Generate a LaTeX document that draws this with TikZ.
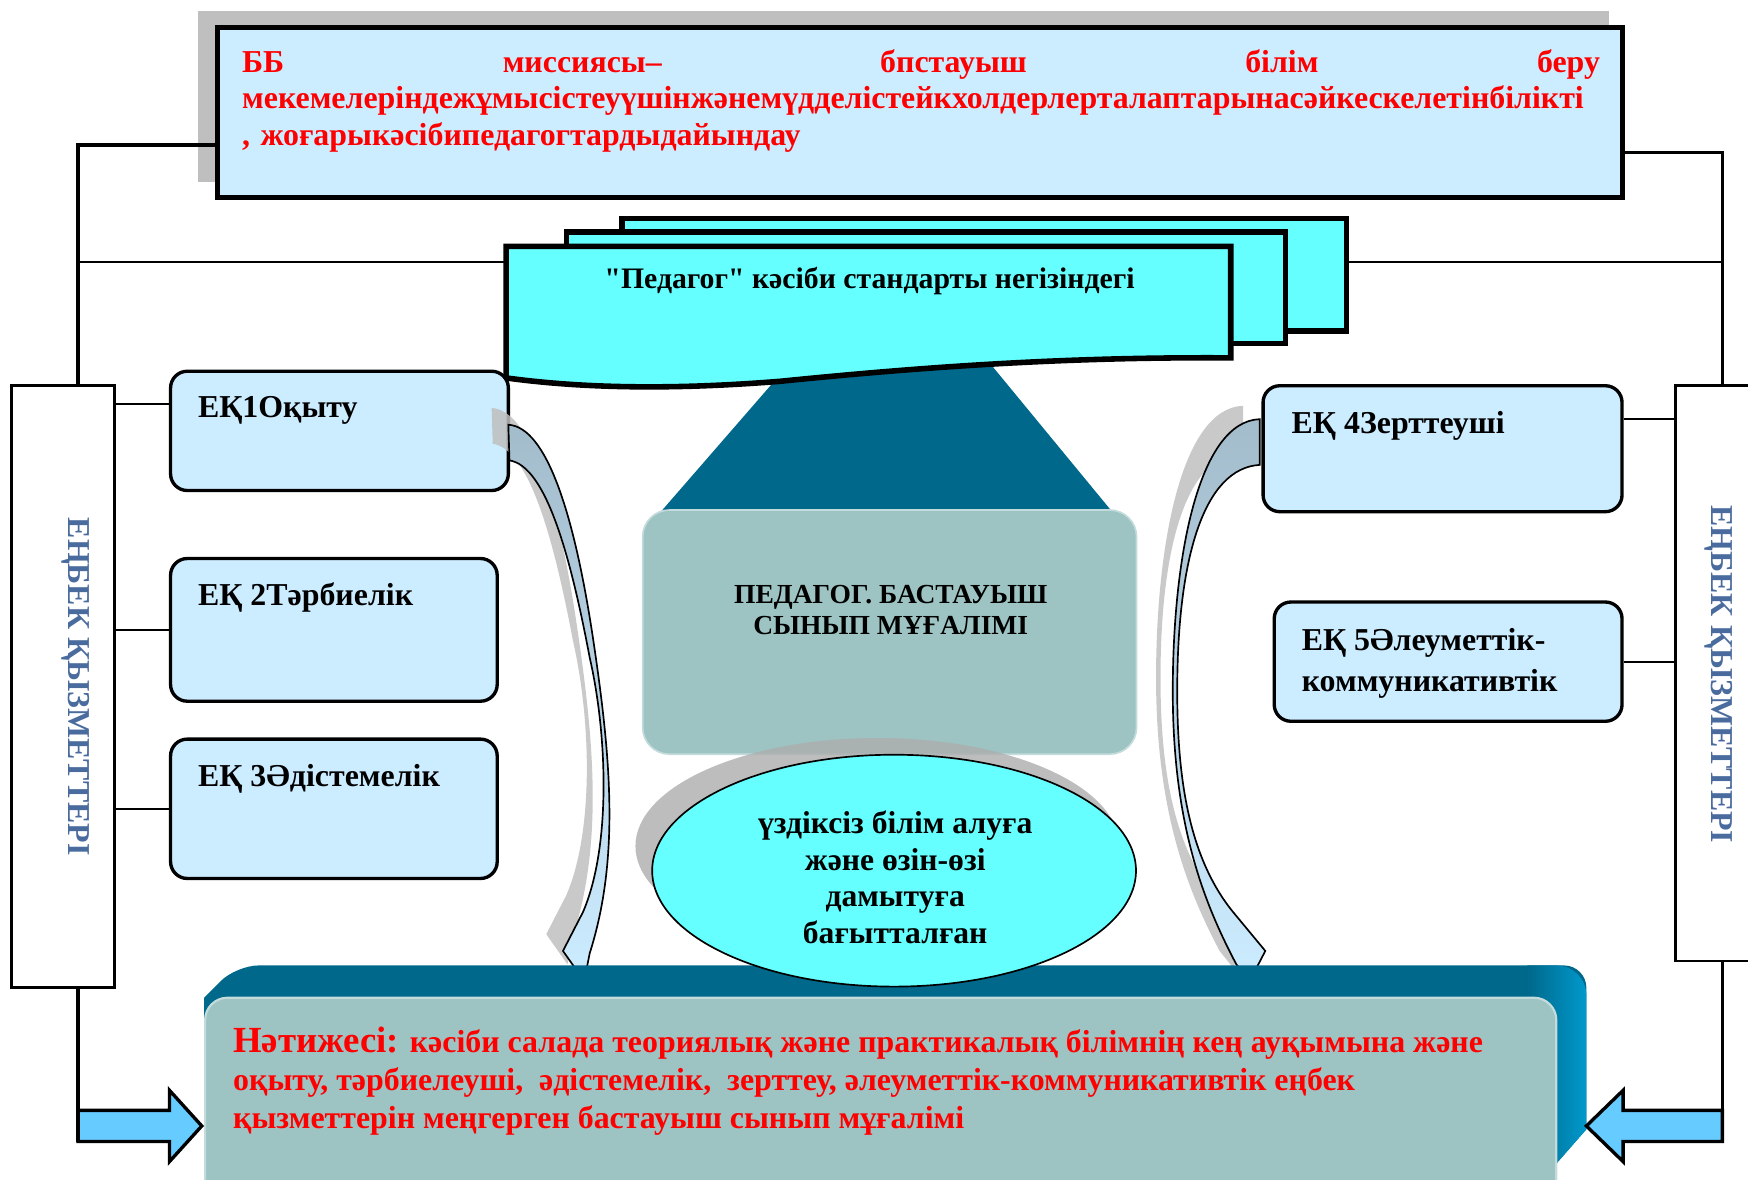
\documentclass[tikz,border=0pt]{standalone}
\usepackage{fontspec}
\setmainfont{Liberation Serif}
\newfontfamily\quotefont{Liberation Serif}
\usetikzlibrary{arrows.meta,shapes.geometric}

\definecolor{boxblue}{HTML}{CCECFF}
\definecolor{docaqua}{HTML}{66FFFF}
\definecolor{deepteal}{HTML}{00688B}
\definecolor{sageteal}{HTML}{9DC3C3}
\definecolor{sideblue}{HTML}{0099CC}
\definecolor{arrowblue}{HTML}{66CCFF}
\definecolor{labelblue}{HTML}{4A6B9D}
\definecolor{shadowgray}{HTML}{BFBFBF}
\definecolor{curvetop}{HTML}{A3BCCC}

\newcommand{\curveL}{(456,381) .. controls (490,383) and (515,460) .. (532,573)
  .. controls (548,680) and (556,770) .. (529,855) -- (524,880) -- (505,853) -- (523,818)
  .. controls (548,760) and (545,660) .. (529,590) .. controls (512,500) and (490,418) .. (457,413) -- cycle}
\newcommand{\curveR}{(1130,376) .. controls (1075,378) and (1052,500) .. (1052,620)
  .. controls (1052,740) and (1080,810) .. (1109,865) -- (1121,880) -- (1135,853) -- (1106,818)
  .. controls (1067,770) and (1056,700) .. (1056,620) .. controls (1056,500) and (1080,420) .. (1130,417) -- cycle}

\begin{document}
\begin{tikzpicture}[x=1pt,y=-1pt]
\useasboundingbox (0,0) rectangle (1568,1058);
\clip (0,0) rectangle (1568,1058);

\fill[shadowgray] (178,10) rectangle (1443,163);
\node[draw,line width=4.5pt,fill=boxblue,minimum width=1260pt,minimum height=152pt] (mission) at (825,101) {};
\node[anchor=north west,inner sep=0pt,text width=1218pt,align=left,text=red,
      font=\bfseries\fontsize{28.6}{33}\selectfont] (missiontxt) at (217,44)
  {ББ\hfill миссиясы–\hfill бпстауыш\hfill білім\hfill беру\\
   мекемелеріндежұмысістеуүшінжәнемүдделістейкхолдерлерталаптарынасәйкескелетінбілікті\\
   , жоғарыкәсібипедагогтардыдайындау};

\fill[deepteal] (718,315) -- (879,315) -- (1005,468) -- (585,468) -- cycle;

\begin{scope}[every node/.style={draw,line width=5pt,fill=docaqua}]
    \node[minimum width=650pt,minimum height=101pt] (doc3) at (883,246.5) {};
    \node[minimum width=645pt,minimum height=100pt] (doc2) at (830.5,258) {};
\end{scope}
\draw[line width=5pt,fill=docaqua] (454,221) -- (1104,221) -- (1104,321)
  .. controls (950,320) and (820,330) .. (700,342)
  .. controls (600,350) and (520,348) .. (454,339) -- cycle;
\node[font=\bfseries\fontsize{26.7}{30}\selectfont] (standard) at (780,252) {{\quotefont"}Педагог{\quotefont"} кәсіби стандарты негізіндегі};

\node[draw=sageteal!60!white,line width=1.5pt,fill=sageteal,rounded corners=24pt,
      minimum width=443pt,minimum height=219pt] (teacher) at (798,567) {};
\node[align=center,font=\bfseries\fontsize{24.7}{28}\selectfont] (teachertxt) at (799,547) {ПЕДАГОГ. БАСТАУЫШ\\СЫНЫП МҰҒАЛІМІ};

\begin{scope}[every node/.style={draw,line width=3pt,fill=boxblue,rounded corners=15pt}]
    \node[minimum width=303pt,minimum height=107pt] (ek1) at (304.5,386.5) {};
    \node[minimum width=293pt,minimum height=128pt] (ek2) at (299.5,565) {};
    \node[minimum width=293pt,minimum height=125pt] (ek3) at (299.5,725.5) {};
    \node[minimum width=322pt,minimum height=113pt] (ek4) at (1294,402.5) {};
    \node[minimum width=312pt,minimum height=107pt] (ek5) at (1299,593.5) {};
\end{scope}
\begin{scope}[every node/.style={anchor=base west,inner sep=0pt,font=\bfseries\fontsize{28.6}{37}\selectfont}]
    \node (ek1txt) at ([xshift=26pt,yshift=-43pt]ek1.north west) {ЕҚ1Оқыту};
    \node (ek2txt) at ([xshift=26pt,yshift=-44pt]ek2.north west) {ЕҚ 2Тәрбиелік};
    \node (ek3txt) at ([xshift=26pt,yshift=-44pt]ek3.north west) {ЕҚ 3Әдістемелік};
    \node (ek4txt) at ([xshift=27pt,yshift=-44pt]ek4.north west) {ЕҚ 4Зерттеуші};
    \node[anchor=north west,align=left] (ek5txt) at ([xshift=26pt,yshift=-25pt]ek5.north west) {ЕҚ 5Әлеуметтік-\\коммуникативтік};
\end{scope}

\begin{scope}[every node/.style={draw,line width=2.5pt,fill=white}]
    \node[minimum width=93pt,minimum height=540pt] (lbox) at (56.5,616) {};
    \node[minimum width=80pt,minimum height=516pt] (rbox) at (1543,604) {};
\end{scope}
\begin{scope}[every node/.style={rotate=-90,text=labelblue,font=\bfseries\fontsize{28.6}{32}\selectfont}]
    \node (ltxt) at (68,616) {ЕҢБЕК ҚЫЗМЕТТЕРІ};
    \node (rtxt) at (1542,605) {ЕҢБЕК ҚЫЗМЕТТЕРІ};
\end{scope}

\fill[shadowgray,opacity=0.85,shift={(-15,-15)}] \curveL;
\fill[shadowgray,opacity=0.85,shift={(-15,-12)}] \curveR;
\draw[line width=1.5pt,top color=curvetop,middle color=curvetop!50!boxblue,bottom color=boxblue] \curveL;
\draw[line width=1.5pt,top color=curvetop,middle color=curvetop!50!boxblue,bottom color=boxblue] \curveR;

\fill[deepteal] (183,1080) -- (183,895) [rounded corners=20pt] -- (212,866) -- (1423,866)
  [sharp corners] -- (1423,1013) -- (1395,1045) -- (1395,1080) -- cycle;
\shade[left color=deepteal,right color=sideblue,rounded corners=27pt] (1370,866) -- (1423,866)
  [sharp corners] -- (1423,1013) -- (1395,1045) -- (1370,1045) -- cycle;
\node[draw=sageteal!60!white,line width=2pt,fill=sageteal,rounded corners=20pt,anchor=north west,
      minimum width=1212pt,minimum height=200pt] (result) at (183,894) {};
\node[anchor=north west,inner sep=0pt,align=left,text=red,font=\bfseries\fontsize{28.6}{34}\selectfont]
  (resulttxt) at (209,921)
  {{\fontsize{33}{34}\selectfont Нәтижесі:} кәсіби салада теориялық және практикалық білімнің кең ауқымына және\\
   оқыту, тәрбиелеуші,\ \ әдістемелік,\ \ зерттеу, әлеуметтік-коммуникативтік еңбек\\
   қызметтерін меңгерген бастауыш сынып мұғалімі};

\fill[black!32,opacity=0.8] (787,759) ellipse [x radius=217, y radius=97];
\node[ellipse,draw,line width=1.5pt,fill=docaqua,minimum width=434pt,minimum height=208pt] (growth) at (802,781) {};
\node[align=center,font=\bfseries\fontsize{28.4}{33}\selectfont] (growthtxt) at (803,787)
  {үздіксіз білім алуға\\және өзін-өзі\\дамытуға\\бағытталған};

\coordinate (lv) at (70,130);
\coordinate (rv) at (1545,137);
\coordinate (stdw) at (454,235);
\coordinate (stde) at (1208,235);
\coordinate (h1) at (0,362);
\coordinate (h4) at (0,376);
\coordinate (la) at (70,1024);
\coordinate (ra) at (1545,1024);

\draw[line width=3pt,fill=arrowblue] (la) -- ++(0,-28) -- (152,996) -- (152,978) -- (181,1010)
  -- (152,1042) -- (152,1024) -- cycle;
\draw[line width=3pt,fill=arrowblue] (ra) -- ++(0,-28) -- (1456,996) -- (1456,978) -- (1423,1010)
  -- (1456,1042) -- (1456,1024) -- cycle;

\begin{scope}[line width=3pt]
    \draw (mission.west |- lv) -- (lv) -- (lv |- lbox.north);
    \draw (mission.east |- rv) -- (rv) -- (rv |- rbox.north);
    \draw (lv |- lbox.south) -- (la);
    \draw (ra |- rbox.south) -- (ra);
\end{scope}
\begin{scope}[line width=1.8pt]
    \draw (lv |- stdw) -- (stdw);
    \draw (stde) -- (rv |- stde);
    \draw (lbox.east |- h1) -- (ek1.west |- h1);
    \draw (lbox.east |- ek2.west) -- (ek2.west);
    \draw (lbox.east |- ek3.west) -- (ek3.west);
    \draw (ek4.east |- h4) -- (rbox.west |- h4);
    \draw (ek5.east) -- (rbox.west |- ek5.east);
\end{scope}
\end{tikzpicture}
\end{document}
